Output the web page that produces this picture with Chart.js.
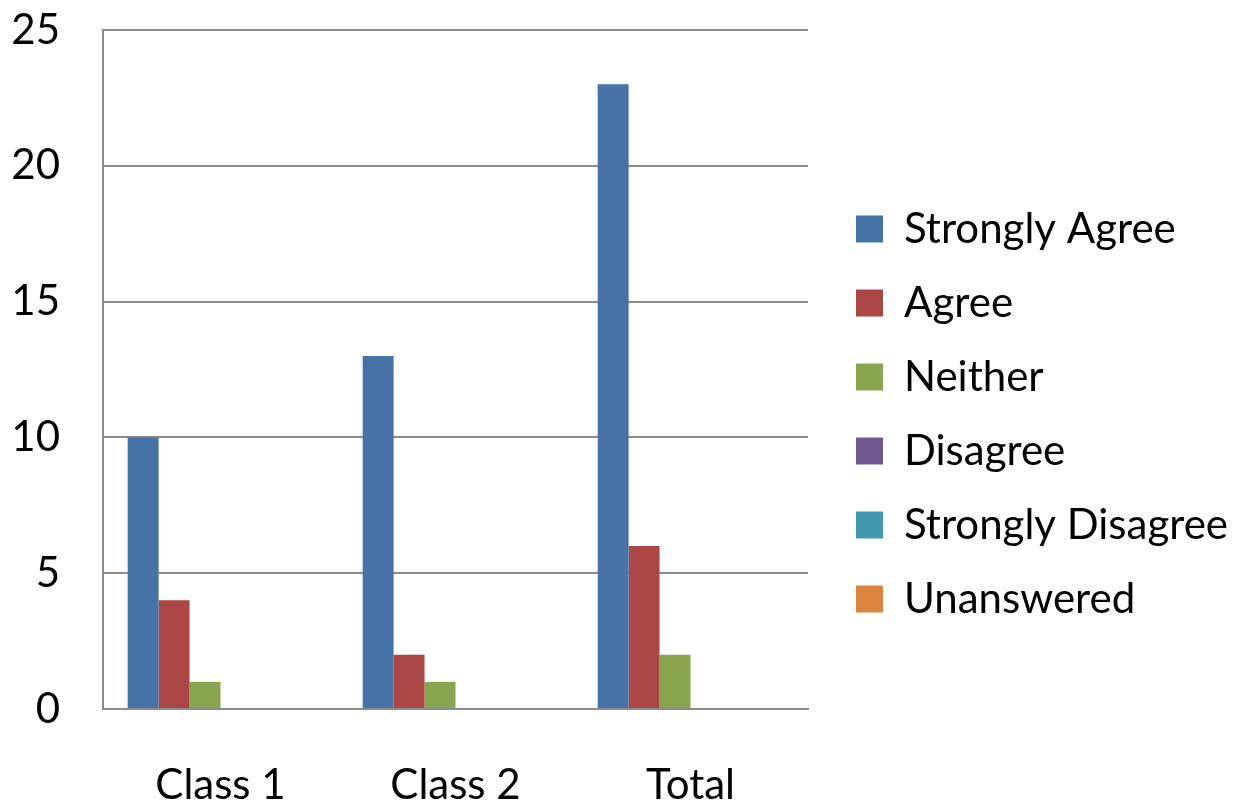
<!DOCTYPE html>
<html>
<head>
<meta charset="utf-8">
<script src="https://cdn.jsdelivr.net/npm/chart.js@4/dist/chart.umd.min.js"></script>
<style>
  html, body { margin: 0; padding: 0; background: #fff; }
  #wrap { width: 1238px; height: 804px; }
</style>
</head>
<body>
<div id="wrap"><canvas id="myChart" width="1238" height="804"></canvas></div>
<script>
const categories = ['Class 1', 'Class 2', 'Total']
const seriesNames = ['Strongly Agree', 'Agree', 'Neither', 'Disagree', 'Strongly Disagree', 'Unanswered']
const stronglyAgree = [10, 13, 23]
const agree = [4, 2, 6]
const neither = [1, 1, 2]
const disagree = [0, 0, 0]
const stronglyDisagree = [0, 0, 0]
const unanswered = [0, 0, 0]
const yTicks = [0, 5, 10, 15, 20, 25]

const colorPalette = ['#4572A7', '#AA4643', '#89A54E', '#71588F', '#4198AF', '#DB843D']
const seriesValues = [stronglyAgree, agree, neither, disagree, stronglyDisagree, unanswered]

const fontFamily = 'Lato, "Liberation Sans", sans-serif'

// keep the legend at a fixed width so the plot ends where it does in the original
const legendFit = {
  id: 'legendFit',
  beforeUpdate(chart) {
    const legend = chart.legend
    if (legend && !legend._wrapped) {
      const fit = legend.fit
      legend.fit = function () {
        fit.call(this)
        this.width = 430
      }
      legend._wrapped = true
    }
  },
  afterLayout(chart) {
    chart.legend.left += 16
    chart.legend.top -= 3
    chart.legend.bottom -= 3
  }
}

function draw() {
  const ctx = document.getElementById('myChart').getContext('2d')
  new Chart(ctx, {
    type: 'bar',
    data: {
      labels: categories,
      datasets: seriesNames.map((name, i) => ({
        label: name,
        data: seriesValues[i],
        backgroundColor: colorPalette[i],
        borderWidth: 0,
        barPercentage: 1,
        categoryPercentage: 0.79
      }))
    },
    options: {
      responsive: false,
      animation: false,
      layout: { padding: { top: 30, right: 0, left: 0, bottom: 0 } },
      scales: {
        x: {
          grid: { display: false, drawTicks: false },
          border: { display: true, color: '#8c8c8c', width: 2 },
          ticks: { color: '#000', font: { family: fontFamily, size: 42 }, padding: 51 },
          afterFit: scale => {
            scale.height = 95
            scale.paddingLeft = 0
            scale.paddingRight = 0
          }
        },
        y: {
          min: 0,
          max: 25,
          afterBuildTicks: scale => { scale.ticks = yTicks.map(v => ({ value: v })) },
          grid: { color: '#8c8c8c', lineWidth: 2, drawTicks: false },
          border: { display: true, color: '#8c8c8c', width: 2 },
          ticks: { color: '#000', font: { family: fontFamily, size: 42 }, padding: 43 },
          afterFit: scale => {
            scale.width = 103
            scale.paddingTop = 0
            scale.paddingBottom = 0
          }
        }
      },
      plugins: {
        tooltip: { enabled: false },
        legend: {
          position: 'right',
          labels: {
            color: '#000',
            font: { family: fontFamily, size: 42 },
            boxWidth: 27,
            boxHeight: 27,
            padding: 32
          }
        }
      }
    },
    plugins: [legendFit]
  })
}

document.fonts.load('42px Lato').then(draw, draw)
</script>
</body>
</html>
